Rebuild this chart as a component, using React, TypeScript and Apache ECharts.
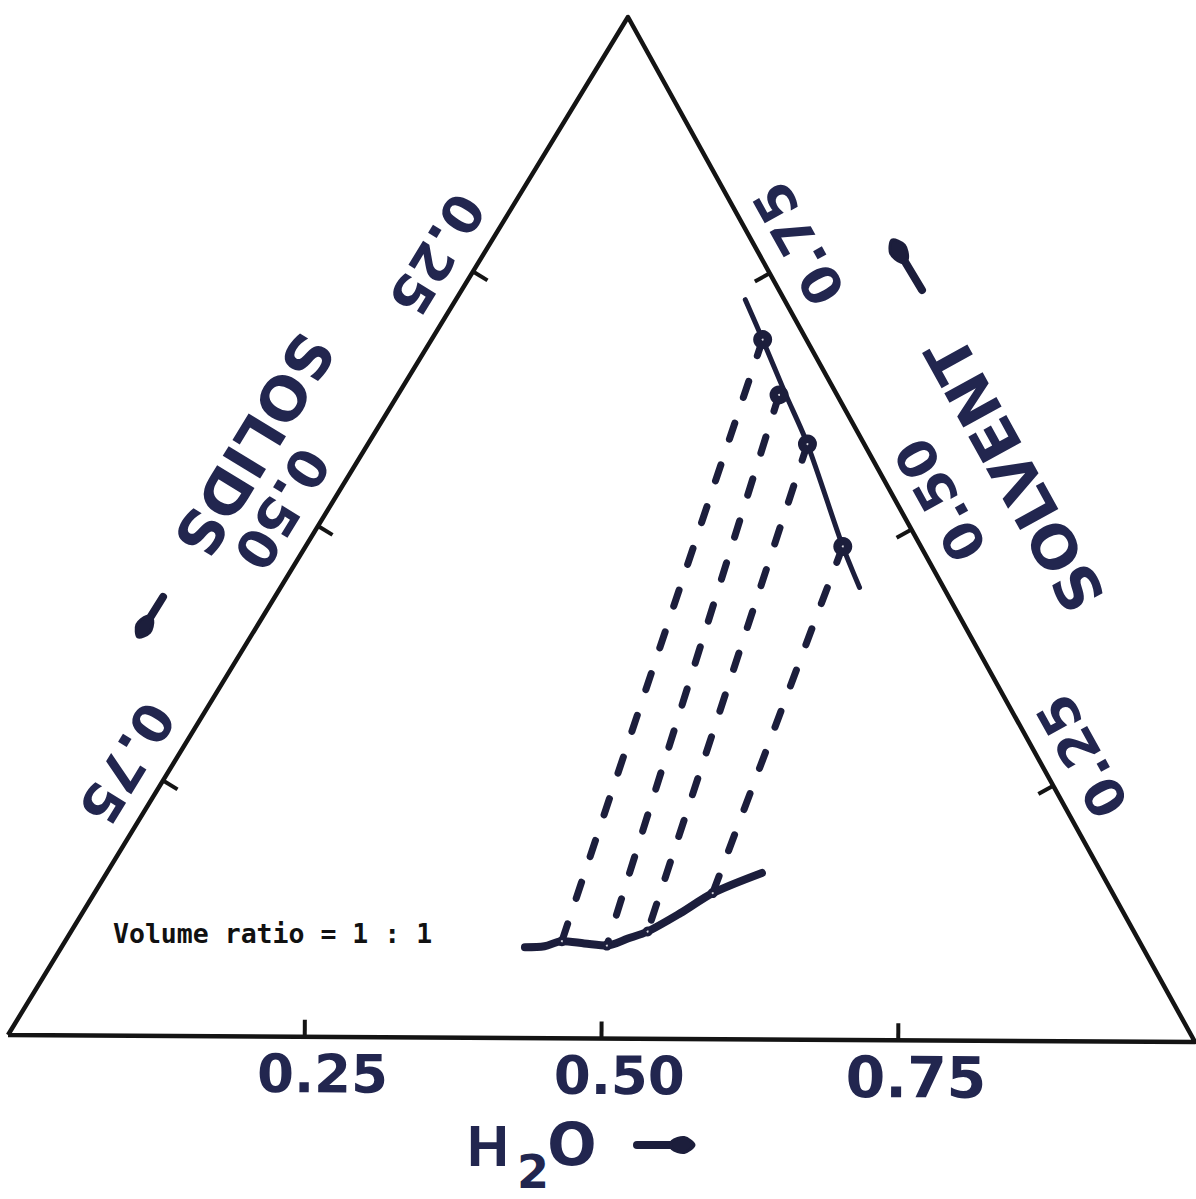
import React, { useEffect, useRef } from 'react';
import * as echarts from 'echarts';

// Tick values and labels shared by the three sides of the ternary diagram
const axisTickValues = [0.25, 0.5, 0.75];
const axisTickLabels = ['0.25', '0.50', '0.75'];

// Solvent-rich phase boundary (mass fractions; solids = 1 - H2O - solvent)
const upperCurveH2O = [0.243, 0.278, 0.324, 0.369, 0.451, 0.486];
const upperCurveSolvent = [0.724, 0.685, 0.633, 0.583, 0.483, 0.443];

// Water-rich phase boundary
const lowerCurveH2O = [0.389, 0.405, 0.417, 0.437, 0.457, 0.471, 0.484, 0.502, 0.519, 0.55];
const lowerCurveSolvent = [0.089, 0.09, 0.095, 0.093, 0.091, 0.098, 0.105, 0.123, 0.143, 0.163];

// Tie lines: solvent-rich end and water-rich end
const tieTopH2O = [0.278, 0.32, 0.369, 0.451];
const tieTopSolvent = [0.685, 0.631, 0.583, 0.483];
const tieBottomH2O = [0.417, 0.457, 0.484, 0.519];
const tieBottomSolvent = [0.095, 0.091, 0.105, 0.143];

const noteText = 'Volume ratio = 1 : 1';

// Layout (normalized positions of the three vertices inside the grid)
const SOLIDS_V = [0, 0.0068];
const WATER_V = [1, 0];
const SOLVENT_V = [0.5223, 1];

const INK = '#141414';
const NAVY = '#1c1e3c';
const LABEL = '#22264f';
const FONT = 'DejaVu Sans';

function toXY(h2o: number, solvent: number): number[] {
  const solids = 1 - h2o - solvent;
  return [
    solids * SOLIDS_V[0] + h2o * WATER_V[0] + solvent * SOLVENT_V[0],
    solids * SOLIDS_V[1] + h2o * WATER_V[1] + solvent * SOLVENT_V[1],
  ];
}

// edges: bottom (solids -> H2O), left (solvent -> solids), right (H2O -> solvent)
const EDGES = [
  [SOLIDS_V, WATER_V],
  [SOLVENT_V, SOLIDS_V],
  [WATER_V, SOLVENT_V],
];
const LABEL_OFF = [37, 40, 40];
const LABEL_ALONG = [18, 4, 12];

function arrow(x1: number, y1: number, x2: number, y2: number, headLen: number, headW: number, shaftW: number) {
  const L = Math.hypot(x2 - x1, y2 - y1);
  const ux = (x2 - x1) / L, uy = (y2 - y1) / L;
  const nx = -uy, ny = ux;
  const pts = [
    [x2, y2],
    [x2 - ux * headLen * 0.45 + nx * headW / 2, y2 - uy * headLen * 0.45 + ny * headW / 2],
    [x2 - ux * headLen + nx * shaftW * 0.45, y2 - uy * headLen + ny * shaftW * 0.45],
    [x2 - ux * headLen - nx * shaftW * 0.45, y2 - uy * headLen - ny * shaftW * 0.45],
    [x2 - ux * headLen * 0.45 - nx * headW / 2, y2 - uy * headLen * 0.45 - ny * headW / 2],
  ];
  return {
    type: 'group',
    children: [
      {
        type: 'line',
        shape: { x1, y1, x2: x2 - ux * headLen * 0.8, y2: y2 - uy * headLen * 0.8 },
        style: { stroke: NAVY, lineWidth: shaftW, lineCap: 'round' },
      },
      { type: 'polygon', shape: { points: pts, smooth: 0.3 }, style: { fill: NAVY, stroke: NAVY, lineWidth: 3, lineJoin: 'round' } },
    ],
  };
}

export default function App() {
  const ref = useRef<HTMLDivElement>(null);
  useEffect(() => {
    if (!ref.current) return;
    const chart = echarts.init(ref.current, undefined, { renderer: 'svg' });

    const triangle = [SOLIDS_V, WATER_V, SOLVENT_V, SOLIDS_V];
    const tickData: number[][] = [];
    for (let e = 0; e < 3; e++) {
      axisTickValues.forEach((t, i) => {
        const a = EDGES[e][0], b = EDGES[e][1];
        tickData.push([a[0] * (1 - t) + b[0] * t, a[1] * (1 - t) + b[1] * t, e, i]);
      });
    }
    const upper = upperCurveH2O.map((w, i) => toXY(w, upperCurveSolvent[i]));
    const lower = lowerCurveH2O.map((w, i) => toXY(w, lowerCurveSolvent[i]));
    const tieTop = tieTopH2O.map((w, i) => toXY(w, tieTopSolvent[i]));
    const tieBottom = tieBottomH2O.map((w, i) => toXY(w, tieBottomSolvent[i]));
    const ties = tieTop.map((p, i) => ({ coords: [p, tieBottom[i]] }));

    const leftRot = -Math.atan2(1018, -620); // reading down-left
    const rightRot = Math.atan2(1025, -567); // reading up-left

    chart.setOption({
      animation: false,
      backgroundColor: '#ffffff',
      grid: { left: 8, top: 17, width: 1187, height: 1025 },
      xAxis: { type: 'value', min: 0, max: 1, show: false },
      yAxis: { type: 'value', min: 0, max: 1, show: false },
      series: [
        {
          type: 'line',
          data: triangle,
          symbol: 'none',
          silent: true,
          clip: false,
          lineStyle: { color: INK, width: 4.5, join: 'round' },
          z: 2,
        },
        {
          type: 'custom',
          data: tickData,
          silent: true,
          clip: false,
          z: 3,
          renderItem: (params: any, api: any) => {
            const e = api.value(2);
            const i = api.value(3);
            const p = api.coord([api.value(0), api.value(1)]);
            const a = api.coord(EDGES[e][0]);
            const b = api.coord(EDGES[e][1]);
            let dx = b[0] - a[0], dy = b[1] - a[1];
            const L = Math.hypot(dx, dy);
            dx /= L; dy /= L;
            const nx = dy, ny = -dx; // inward normal
            const lx = p[0] - nx * LABEL_OFF[e] + dx * LABEL_ALONG[e];
            const ly = p[1] - ny * LABEL_OFF[e] + dy * LABEL_ALONG[e];
            const big = e === 0 && i === 2;
            return {
              type: 'group',
              children: [
                {
                  type: 'line',
                  shape: { x1: p[0], y1: p[1], x2: p[0] + nx * 17, y2: p[1] + ny * 17 },
                  style: { stroke: INK, lineWidth: 4 },
                },
                {
                  type: 'text',
                  x: lx,
                  y: ly,
                  rotation: Math.atan2(-dy, dx),
                  style: {
                    text: axisTickLabels[i],
                    fontSize: big ? 57 : 53,
                    fontFamily: FONT,
                    fontWeight: 'bold',
                    fill: LABEL,
                    align: 'center',
                    verticalAlign: 'middle',
                  },
                },
              ],
            };
          },
        },
        {
          type: 'line',
          data: upper,
          smooth: 0.3,
          symbol: 'none',
          silent: true,
          lineStyle: { color: NAVY, width: 5, cap: 'round' },
          z: 4,
        },
        {
          type: 'line',
          data: lower,
          smooth: 0.3,
          symbol: 'none',
          silent: true,
          lineStyle: { color: NAVY, width: 8, cap: 'round' },
          z: 4,
        },
        {
          type: 'lines',
          coordinateSystem: 'cartesian2d',
          data: ties,
          silent: true,
          lineStyle: { color: NAVY, width: 7, type: [17, 27], cap: 'round', opacity: 1 },
          z: 4,
        },
        {
          type: 'scatter',
          data: tieTop,
          symbol: 'circle',
          symbolSize: 19,
          silent: true,
          itemStyle: { color: NAVY, opacity: 1 },
          z: 5,
        },
        {
          type: 'scatter',
          data: tieBottom,
          symbol: 'circle',
          symbolSize: 10,
          silent: true,
          itemStyle: { color: NAVY, opacity: 1 },
          z: 5,
        },
        {
          type: 'scatter',
          data: tieTop.concat(tieBottom),
          symbol: 'circle',
          symbolSize: 2,
          silent: true,
          itemStyle: { color: '#d8d8e0', opacity: 1 },
          z: 6,
        },
      ],
      graphic: [
        {
          type: 'text',
          x: 254,
          y: 445,
          rotation: leftRot,
          style: { text: 'SOLIDS', fontSize: 60, fontWeight: 'bold', fontFamily: FONT, fill: LABEL, align: 'center', verticalAlign: 'middle' },
        },
        {
          type: 'text',
          x: 1015,
          y: 474,
          rotation: rightRot,
          style: { text: 'SOLVENT', fontSize: 60, fontWeight: 'bold', fontFamily: FONT, fill: LABEL, align: 'center', verticalAlign: 'middle' },
        },
        { type: 'text', x: 488, y: 1145, style: { text: 'H', fontSize: 58, fontWeight: 'bold', fontFamily: 'Liberation Sans', fill: LABEL, align: 'center', verticalAlign: 'middle' } },
        { type: 'text', x: 533, y: 1172, style: { text: '2', fontSize: 46, fontWeight: 'bold', fontFamily: FONT, fill: LABEL, align: 'center', verticalAlign: 'middle' } },
        { type: 'text', x: 572, y: 1145, style: { text: 'O', fontSize: 58, fontWeight: 'bold', fontFamily: FONT, fill: LABEL, align: 'center', verticalAlign: 'middle' } },
        arrow(637, 1145, 694, 1145, 22, 15, 8),
        arrow(922, 290, 892, 240, 24, 16, 8),
        arrow(163, 597, 138, 637, 22, 15, 8),
        {
          type: 'text',
          x: 113,
          y: 933,
          style: { text: noteText, fontSize: 26.5, fontWeight: 'bold', fontFamily: 'DejaVu Sans Mono', fill: '#111111', align: 'left', verticalAlign: 'middle' },
        },
      ],
    });
    return () => chart.dispose();
  }, []);
  return <div ref={ref} style={{ position: 'absolute', left: 0, top: 0, width: 1196, height: 1199 }} />;
}
